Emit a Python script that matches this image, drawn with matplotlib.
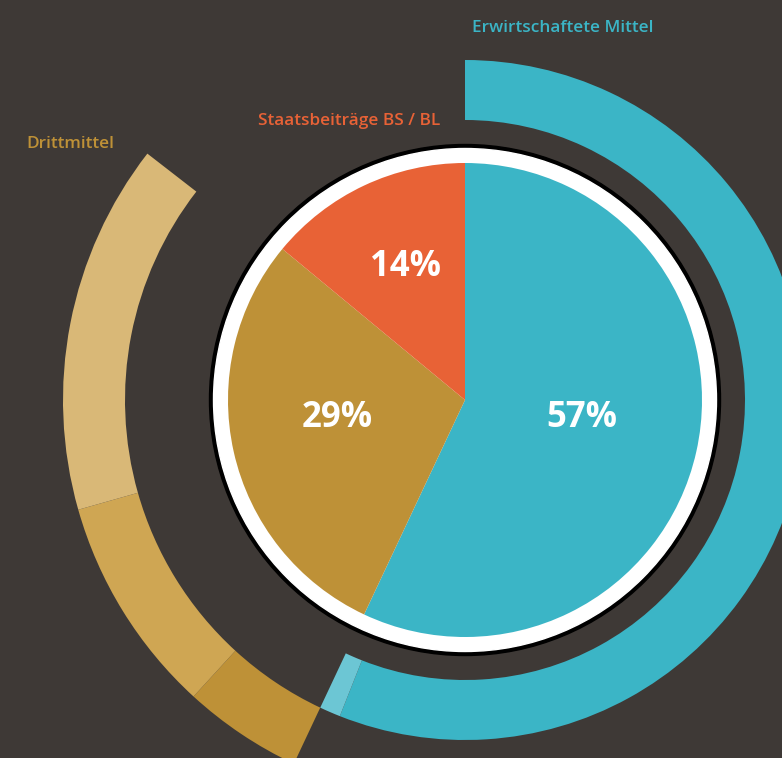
import matplotlib
matplotlib.use("Agg")
import matplotlib.pyplot as plt
from matplotlib.patches import Circle

# inner pie: share of total funding
pie_labels = ["Erwirtschaftete Mittel", "Drittmittel", "Staatsbeiträge BS / BL"]
pie_values = [57, 29, 14]
pie_text = ["57%", "29%", "14%"]

# outer rings: breakdown of the two larger shares
blue_ring = [56, 1]
gold_ring = [4.8, 8.8, 14.9]

bg = "#3e3936"
blue = "#3bb5c6"
blue_light = "#6cc6d4"
gold = "#be9137"
gold_mid = "#cfa653"
gold_light = "#d9b877"
orange = "#e86236"

W, H = 782, 758
cx, cy = 465, H - 400

fig = plt.figure(figsize=(W / 100, H / 100), dpi=100, facecolor=bg)
ax = fig.add_axes([0, 0, 1, 1])
ax.set_facecolor(bg)

# black + white frame around the pie
ax.add_patch(Circle((cx, cy), 255.5, color="black", zorder=1))
ax.add_patch(Circle((cx, cy), 251.5, color="white", zorder=2))

wedges, _ = ax.pie(pie_values, colors=[blue, gold, orange], radius=237,
                   center=(cx, cy), startangle=90, counterclock=False,
                   wedgeprops=dict(linewidth=0))
for w in wedges:
    w.set_zorder(3)

# blue ring (inner ring, 280..340)
rest = 100 - sum(blue_ring)
ring1, _ = ax.pie(blue_ring + [rest], colors=[blue, blue_light, "none"],
                  radius=340, center=(cx, cy), startangle=90, counterclock=False,
                  wedgeprops=dict(width=60, linewidth=0))

# gold ring (outer ring, 340..402), starts where the blue share ends
ring2, _ = ax.pie([pie_values[0]] + gold_ring + [100 - pie_values[0] - sum(gold_ring)],
                  colors=["none", gold, gold_mid, gold_light, "none"],
                  radius=402, center=(cx, cy), startangle=90, counterclock=False,
                  wedgeprops=dict(width=62, linewidth=0))

# percentages
pos = [(582, H - 418), (337, H - 418), (405, H - 267)]
for (x, y), t in zip(pos, pie_text):
    ax.text(x, y, t, color="white", fontsize=25, fontweight="bold",
            family="Open Sans", ha="center", va="center", zorder=5)

# category labels
ax.text(472, H - 28, pie_labels[0], color=blue, fontsize=12.4, fontweight="semibold",
        family="Open Sans", ha="left", va="center")
ax.text(258, H - 121, pie_labels[2], color=orange, fontsize=12.4, fontweight="semibold",
        family="Open Sans", ha="left", va="center")
ax.text(26, H - 144, pie_labels[1], color=gold, fontsize=12.4, fontweight="semibold",
        family="Open Sans", ha="left", va="center")

ax.set_xlim(0, W)
ax.set_ylim(0, H)
ax.set_aspect("auto")
ax.axis("off")

fig.savefig("out.png", dpi=100, facecolor=bg)
